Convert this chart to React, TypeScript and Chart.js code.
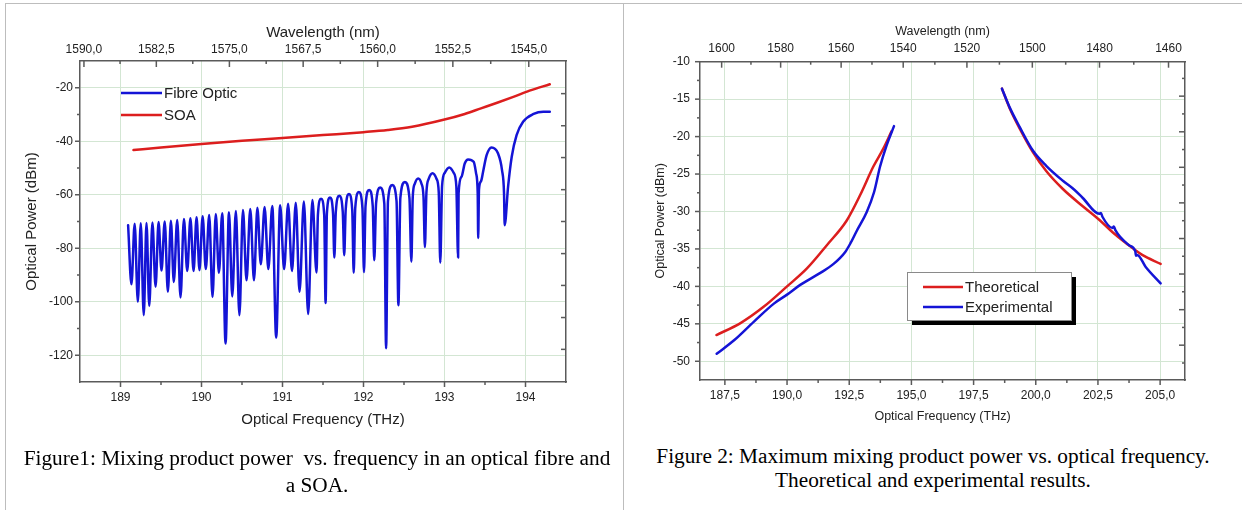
import React, { useEffect, useRef } from "react";
import { Chart, registerables } from "chart.js";

Chart.register(...registerables);

const SANS = '"Liberation Sans", Arial, Helvetica, sans-serif';
const SERIF = '"Liberation Serif", "Times New Roman", Times, serif';
const BLUE = "#1414d6";
const RED = "#dc1e1e";
const GRID = "#d3e6d3";
const FRAME = "#5a5a5a";
const TEXT = "#222222";
const C_NM_THZ = 299792.458;

// ---------------- Figure 1 ----------------
const FIG1_FREQ_TICKS = [189, 190, 191, 192, 193, 194];
const FIG1_FREQ_MINOR = [189.5, 190.5, 191.5, 192.5, 193.5];
const FIG1_DBM_TICKS = [-120, -100, -80, -60, -40, -20];
const FIG1_DBM_MINOR = [-110, -90, -70, -50, -30];
const FIG1_WL_TICKS = [1590, 1582.5, 1575, 1567.5, 1560, 1552.5, 1545];
const FIG1_WL_MINOR = [1586.25, 1578.75, 1571.25, 1563.75, 1556.25, 1548.75];
const FIG1_RIGHT_TICKS = [-22.2, -34.2, -46.1, -58.1, -70.0, -82.0, -93.9, -105.9, -117.8];

const SOA_FREQ = [189.16, 189.5, 190.0, 190.5, 191.0, 191.5, 192.0, 192.3, 192.6, 193.0, 193.25, 193.45, 193.65, 193.85, 194.05, 194.3];
const SOA_DBM = [-43.3, -42.3, -41.0, -39.8, -38.8, -37.7, -36.6, -35.8, -34.6, -31.9, -29.8, -27.7, -25.6, -23.4, -21.1, -18.7];

const FIBRE_PEAK_FREQ = [189.094, 189.175, 189.25, 189.321, 189.394, 189.47, 189.546, 189.622, 189.7, 189.783, 189.863, 189.939, 190.014, 190.095, 190.176, 190.256, 190.339, 190.424, 190.512, 190.602, 190.69, 190.779, 190.874, 190.971, 191.069, 191.164, 191.264, 191.369, 191.476, 191.586, 191.701, 191.821, 191.943, 192.07, 192.206, 192.355, 192.511, 192.675, 192.853, 193.058, 193.292, 193.58];
const FIBRE_PEAK_DBM = [-71.4, -70.8, -70.7, -70.6, -70.4, -70.2, -70.0, -69.7, -69.4, -69.1, -68.8, -68.4, -68.0, -67.6, -67.2, -66.9, -66.5, -66.1, -65.7, -65.3, -64.9, -64.6, -64.2, -63.9, -63.4, -63.0, -62.5, -62.0, -61.5, -61.0, -60.4, -59.7, -59.0, -58.2, -57.3, -56.4, -55.2, -53.9, -52.0, -49.8, -46.8, -42.3];

const FIBRE_DIP_FREQ = [189.135, 189.214, 189.287, 189.355, 189.433, 189.506, 189.585, 189.658, 189.741, 189.824, 189.902, 189.975, 190.053, 190.136, 190.215, 190.297, 190.38, 190.468, 190.556, 190.648, 190.732, 190.825, 190.922, 191.02, 191.117, 191.21, 191.317, 191.42, 191.532, 191.64, 191.762, 191.879, 192.006, 192.133, 192.279, 192.431, 192.591, 192.758, 192.948, 193.168, 193.416, 193.743];
const FIBRE_DIP_DBM = [-93.5, -100.0, -105.0, -101.6, -94.4, -88.3, -96.3, -92.6, -98.4, -88.5, -88.5, -88.2, -87.8, -98.2, -89.2, -115.6, -98.0, -105.0, -92.0, -92.0, -86.0, -87.8, -113.4, -87.8, -88.5, -96.3, -104.6, -89.1, -100.5, -83.5, -82.6, -89.2, -88.9, -84.5, -117.4, -101.3, -85.0, -79.5, -85.4, -83.5, -76.2, -71.4];

const FIBRE_SHOULDER_FREQ = [191.437, 191.515, 191.548, 191.624, 191.658, 191.744, 191.78, 191.861, 191.898, 191.987, 192.025, 192.114, 192.155, 192.257, 192.302, 192.408, 192.455, 192.567, 192.608, 192.633, 192.716, 192.741, 192.777, 192.806, 192.901, 192.929, 192.97, 193.003, 193.113, 193.146, 193.174, 193.21, 193.25, 193.36, 193.39, 193.41, 193.426, 193.45, 193.48, 193.52, 193.66, 193.71, 193.735];
const FIBRE_SHOULDER_DBM = [-67.5, -67.5, -67.0, -67.0, -66.4, -66.4, -65.7, -65.7, -65.0, -65.0, -64.2, -64.2, -63.3, -63.3, -62.4, -62.4, -61.2, -61.2, -60.9, -55.9, -55.9, -60.9, -59.0, -54.0, -54.0, -59.0, -56.8, -51.8, -51.8, -56.8, -59.5, -53.3, -48.3, -47.7, -52.0, -59.5, -58.0, -55.0, -50.8, -45.2, -44.5, -50.8, -59.5];

const FIBRE_TAIL_FREQ = [193.785, 193.83, 193.89, 193.97, 194.1, 194.22, 194.3];
const FIBRE_TAIL_DBM = [-57.0, -45.8, -37.7, -32.7, -29.8, -29.0, -29.0];

// ---------------- Figure 2 ----------------
const FIG2_FREQ_TICKS = [187.5, 190, 192.5, 195, 197.5, 200, 202.5, 205];
const FIG2_FREQ_MINOR = [188.75, 191.25, 193.75, 196.25, 198.75, 201.25, 203.75];
const FIG2_DBM_TICKS = [-50, -45, -40, -35, -30, -25, -20, -15, -10];
const FIG2_DBM_MINOR = [-47.5, -42.5, -37.5, -32.5, -27.5, -22.5, -17.5, -12.5];
const FIG2_WL_TICKS = [1600, 1580, 1560, 1540, 1520, 1500, 1480, 1460];
const FIG2_WL_MINOR = [1590, 1570, 1550, 1530, 1510, 1490, 1470];
const FIG2_RIGHT_LONG = [-14.6, -19.36, -24.1, -28.85, -33.61, -38.35, -43.11, -47.85];
const FIG2_RIGHT_SHORT = [-12.23, -16.97, -21.73, -26.47, -31.23, -35.98, -40.72, -45.48, -50.23];

const THEO_LOW_FREQ = [187.16, 188.13, 189.07, 190.0, 190.8, 191.6, 192.4, 192.94, 193.47, 193.87, 194.2];
const THEO_LOW_DBM = [-46.5, -44.9, -42.7, -40.0, -37.6, -34.5, -31.2, -27.8, -24.0, -21.6, -19.3];
const THEO_HIGH_FREQ = [198.64, 198.95, 199.35, 199.89, 200.42, 201.09, 201.89, 202.55, 203.1, 203.62, 204.28, 205.02];
const THEO_HIGH_DBM = [-13.6, -16.2, -18.9, -22.1, -24.6, -27.0, -29.3, -31.1, -32.8, -34.2, -35.8, -37.0];

const EXP_LOW_FREQ = [187.17, 187.87, 188.67, 189.47, 190.0, 190.53, 191.34, 191.87, 192.34, 192.54, 192.8, 193.2, 193.5, 193.74, 194.0, 194.3];
const EXP_LOW_DBM = [-49.0, -47.2, -44.7, -42.3, -41.1, -39.8, -38.2, -37.0, -35.4, -34.3, -32.6, -30.1, -27.4, -24.0, -21.2, -18.6];
const EXP_HIGH_FREQ = [198.64, 198.95, 199.35, 199.89, 200.42, 201.09, 201.55, 201.89, 202.55, 202.62, 202.68, 203.09, 203.14, 203.2, 203.75, 204.0, 204.03, 204.08, 204.42, 205.02];
const EXP_HIGH_DBM = [-13.6, -16.1, -18.7, -21.9, -23.9, -25.9, -27.1, -28.2, -30.3, -30.2, -30.7, -32.2, -32.0, -32.5, -34.5, -35.3, -35.9, -35.8, -37.4, -39.6];

// ---------------- helpers ----------------
type Pt = { x: number; y: number | null };
const pairs = (xs: number[], ys: number[]): Pt[] => xs.map((x, i) => ({ x, y: ys[i] }));
const merged = (...lists: Pt[][]): Pt[] => lists.flat().sort((a, b) => a.x - b.x);
const comma = (v: number, d: number) => v.toFixed(d).replace(".", ",");
const toFreq = (nm: number) => C_NM_THZ / nm;

type TickSpec = { axis: string; values: number[]; len: number; inward: boolean };

function tickMarks(id: string, specs: TickSpec[]) {
  return {
    id,
    afterDraw(chart: any) {
      const ctx = chart.ctx;
      const a = chart.chartArea;
      ctx.save();
      ctx.strokeStyle = FRAME;
      ctx.lineWidth = 1.5;
      for (const s of specs) {
        const sc = chart.scales[s.axis];
        for (const v of s.values) {
          const p = sc.getPixelForValue(v);
          ctx.beginPath();
          if (sc.position === "bottom") {
            ctx.moveTo(p, a.bottom);
            ctx.lineTo(p, a.bottom + (s.inward ? -s.len : s.len));
          } else if (sc.position === "top") {
            ctx.moveTo(p, a.top);
            ctx.lineTo(p, a.top + (s.inward ? s.len : -s.len));
          } else if (sc.position === "left") {
            ctx.moveTo(a.left, p);
            ctx.lineTo(a.left + (s.inward ? s.len : -s.len), p);
          } else {
            ctx.moveTo(a.right, p);
            ctx.lineTo(a.right + (s.inward ? -s.len : s.len), p);
          }
          ctx.stroke();
        }
      }
      ctx.restore();
    },
  };
}

type LegendEntry = { label: string; color: string };
type LegendBox = { x: number; y: number; w: number; h: number; shadow: boolean; frame: boolean; lineX0: number; lineX1: number; firstY: number; gap: number; fontSize: number };

function legendPlugin(id: string, entries: LegendEntry[], box: LegendBox) {
  return {
    id,
    afterDraw(chart: any) {
      const ctx = chart.ctx;
      ctx.save();
      if (box.shadow) {
        ctx.fillStyle = "#000";
        ctx.fillRect(box.x + 5, box.y + 5, box.w, box.h);
      }
      if (box.frame) {
        ctx.fillStyle = "#fff";
        ctx.fillRect(box.x, box.y, box.w, box.h);
        ctx.strokeStyle = "#8a8a8a";
        ctx.lineWidth = 1;
        ctx.strokeRect(box.x + 0.5, box.y + 0.5, box.w, box.h);
      }
      ctx.font = `${box.fontSize}px ${SANS}`;
      ctx.textBaseline = "middle";
      ctx.textAlign = "left";
      entries.forEach((e, i) => {
        const y = box.firstY + i * box.gap;
        ctx.strokeStyle = e.color;
        ctx.lineWidth = 2.5;
        ctx.beginPath();
        ctx.moveTo(box.lineX0, y);
        ctx.lineTo(box.lineX1, y);
        ctx.stroke();
        ctx.fillStyle = TEXT;
        ctx.fillText(e.label, box.lineX1 + 2, y + 1);
      });
      ctx.restore();
    },
  };
}

function fig1Config(): any {
  const fibre = merged(
    pairs(FIBRE_PEAK_FREQ, FIBRE_PEAK_DBM),
    pairs(FIBRE_DIP_FREQ, FIBRE_DIP_DBM),
    pairs(FIBRE_SHOULDER_FREQ, FIBRE_SHOULDER_DBM),
    pairs(FIBRE_TAIL_FREQ, FIBRE_TAIL_DBM)
  );
  const soa = pairs(SOA_FREQ, SOA_DBM);
  const tickFont = { family: SANS, size: 12 };
  const titleFont = { family: SANS, size: 15 };
  return {
    type: "line",
    data: {
      datasets: [
        { label: "Fibre Optic", data: fibre, borderColor: BLUE, borderWidth: 2.5, pointRadius: 0, cubicInterpolationMode: "monotone", borderJoinStyle: "round", borderCapStyle: "round" },
        { label: "SOA", data: soa, borderColor: RED, borderWidth: 2.5, pointRadius: 0, cubicInterpolationMode: "monotone", borderCapStyle: "round" },
      ],
    },
    options: {
      responsive: false,
      animation: false,
      events: [],
      layout: { padding: 0, autoPadding: false },
      plugins: { legend: { display: false }, tooltip: { enabled: false } },
      scales: {
        x: {
          type: "linear", position: "bottom", min: 188.5, max: 194.5,
          afterBuildTicks: (s: any) => { s.ticks = FIG1_FREQ_TICKS.map((v) => ({ value: v })); },
          afterFit: (s: any) => { s.height = 58; },
          ticks: { autoSkip: false, maxRotation: 0, padding: 8.8, font: tickFont, color: TEXT, callback: (v: number) => String(v) },
          grid: { color: GRID, lineWidth: 1, drawTicks: false },
          border: { color: FRAME, width: 1.5 },
          title: { display: true, text: "Optical Frequency (THz)", font: titleFont, color: TEXT, padding: { top: 0, bottom: 11 } },
        },
        x2: {
          type: "linear", position: "top", min: 188.5, max: 194.5,
          afterBuildTicks: (s: any) => { s.ticks = FIG1_WL_TICKS.map((l) => ({ value: toFreq(l) })); },
          afterFit: (s: any) => { s.height = 61; },
          ticks: { autoSkip: false, maxRotation: 0, padding: 3.8, font: tickFont, color: TEXT, callback: (_v: number, i: number) => comma(FIG1_WL_TICKS[i], 1) },
          grid: { display: true, drawOnChartArea: false, drawTicks: false },
          border: { color: FRAME, width: 1.5 },
          title: { display: true, text: "Wavelength (nm)", font: titleFont, color: TEXT, padding: { top: 24, bottom: 0 } },
        },
        y: {
          type: "linear", position: "left", min: -130, max: -10,
          afterBuildTicks: (s: any) => { s.ticks = FIG1_DBM_TICKS.map((v) => ({ value: v })); },
          afterFit: (s: any) => { s.width = 80; },
          ticks: { autoSkip: false, padding: 7, font: tickFont, color: TEXT, callback: (v: number) => String(v) },
          grid: { color: GRID, lineWidth: 1, drawTicks: false },
          border: { color: FRAME, width: 1.5 },
          title: { display: true, text: "Optical Power (dBm)", font: titleFont, color: TEXT, padding: { top: 22.6, bottom: 0 } },
        },
        y2: {
          type: "linear", position: "right", min: -130, max: -10,
          afterFit: (s: any) => { s.width = 54; },
          ticks: { display: false },
          grid: { display: true, drawOnChartArea: false, drawTicks: false },
          border: { color: FRAME, width: 1.5 },
        },
      },
    },
    plugins: [
      tickMarks("fig1Ticks", [
        { axis: "x", values: FIG1_FREQ_TICKS, len: 5, inward: false },
        { axis: "x", values: FIG1_FREQ_MINOR, len: 3, inward: false },
        { axis: "y", values: FIG1_DBM_TICKS, len: 5, inward: false },
        { axis: "y", values: FIG1_DBM_MINOR, len: 3, inward: false },
        { axis: "x2", values: FIG1_WL_TICKS.map(toFreq), len: 6, inward: true },
        { axis: "x2", values: FIG1_WL_MINOR.map(toFreq), len: 3, inward: true },
        { axis: "y2", values: FIG1_RIGHT_TICKS, len: 5, inward: true },
      ]),
      legendPlugin(
        "fig1Legend",
        [
          { label: "Fibre Optic", color: BLUE },
          { label: "SOA", color: RED },
        ],
        { x: 0, y: 0, w: 0, h: 0, shadow: false, frame: false, lineX0: 121, lineX1: 162, firstY: 93, gap: 22, fontSize: 15 }
      ),
    ],
  };
}

function fig2Config(): any {
  const gap: Pt = { x: 196, y: null };
  const theo = [...pairs(THEO_LOW_FREQ, THEO_LOW_DBM), gap, ...pairs(THEO_HIGH_FREQ, THEO_HIGH_DBM)];
  const exp = [...pairs(EXP_LOW_FREQ, EXP_LOW_DBM), gap, ...pairs(EXP_HIGH_FREQ, EXP_HIGH_DBM)];
  const tickFont = { family: SANS, size: 12 };
  const titleFont = { family: SANS, size: 12.5 };
  return {
    type: "line",
    data: {
      datasets: [
        { label: "Experimental", data: exp, order: 0, borderColor: BLUE, borderWidth: 2.5, pointRadius: 0, cubicInterpolationMode: "monotone", borderCapStyle: "round", borderJoinStyle: "round" },
        { label: "Theoretical", data: theo, order: 1, borderColor: RED, borderWidth: 2.5, pointRadius: 0, cubicInterpolationMode: "monotone", borderCapStyle: "round" },
      ],
    },
    options: {
      responsive: false,
      animation: false,
      events: [],
      spanGaps: false,
      layout: { padding: 0, autoPadding: false },
      plugins: { legend: { display: false }, tooltip: { enabled: false } },
      scales: {
        x: {
          type: "linear", position: "bottom", min: 186.5, max: 206,
          afterBuildTicks: (s: any) => { s.ticks = FIG2_FREQ_TICKS.map((v) => ({ value: v })); },
          afterFit: (s: any) => { s.height = 60; },
          ticks: { autoSkip: false, maxRotation: 0, padding: 8.8, font: tickFont, color: TEXT, callback: (v: number) => comma(v, 1) },
          grid: { color: GRID, lineWidth: 1, drawTicks: false },
          border: { color: FRAME, width: 1.5 },
          title: { display: true, text: "Optical Frequency (THz)", font: titleFont, color: TEXT, padding: { top: 0, bottom: 16 } },
        },
        x2: {
          type: "linear", position: "top", min: 186.5, max: 206,
          afterBuildTicks: (s: any) => { s.ticks = FIG2_WL_TICKS.map((l) => ({ value: toFreq(l) })); },
          afterFit: (s: any) => { s.height = 61.7; },
          ticks: { autoSkip: false, maxRotation: 0, padding: 6.2, font: tickFont, color: TEXT, callback: (_v: number, i: number) => String(FIG2_WL_TICKS[i]) },
          grid: { display: true, drawOnChartArea: false, drawTicks: false },
          border: { color: FRAME, width: 1.5 },
          title: { display: true, text: "Wavelength (nm)", font: titleFont, color: TEXT, padding: { top: 24.5, bottom: 0 } },
        },
        y: {
          type: "linear", position: "left", min: -52.5, max: -10,
          afterBuildTicks: (s: any) => { s.ticks = FIG2_DBM_TICKS.map((v) => ({ value: v })); },
          afterFit: (s: any) => { s.width = 78; },
          ticks: { autoSkip: false, padding: 10, font: tickFont, color: TEXT, callback: (v: number) => String(v) },
          grid: { color: GRID, lineWidth: 1, drawTicks: false },
          border: { color: FRAME, width: 1.5 },
          title: { display: true, text: "Optical Power (dBm)", font: titleFont, color: TEXT, padding: { top: 30.8, bottom: 0 } },
        },
        y2: {
          type: "linear", position: "right", min: -52.5, max: -10,
          afterFit: (s: any) => { s.width = 57; },
          ticks: { display: false },
          grid: { display: true, drawOnChartArea: false, drawTicks: false },
          border: { color: FRAME, width: 1.5 },
        },
      },
    },
    plugins: [
      tickMarks("fig2Ticks", [
        { axis: "x", values: FIG2_FREQ_TICKS, len: 5, inward: false },
        { axis: "x", values: FIG2_FREQ_MINOR, len: 3, inward: false },
        { axis: "y", values: FIG2_DBM_TICKS, len: 5, inward: false },
        { axis: "y", values: FIG2_DBM_MINOR, len: 3, inward: false },
        { axis: "x2", values: FIG2_WL_TICKS.map(toFreq), len: 6, inward: true },
        { axis: "x2", values: FIG2_WL_MINOR.map(toFreq), len: 3, inward: true },
        { axis: "y2", values: FIG2_RIGHT_LONG, len: 6, inward: true },
        { axis: "y2", values: FIG2_RIGHT_SHORT, len: 3, inward: true },
      ]),
      legendPlugin(
        "fig2Legend",
        [
          { label: "Theoretical", color: RED },
          { label: "Experimental", color: BLUE },
        ],
        { x: 285, y: 272, w: 164, h: 48, shadow: true, frame: true, lineX0: 301, lineX1: 341, firstY: 287, gap: 20, fontSize: 15 }
      ),
    ],
  };
}

function ChartCanvas(props: { make: () => any; left: number; top: number; width: number; height: number }) {
  const ref = useRef<HTMLCanvasElement>(null);
  useEffect(() => {
    const chart = new Chart(ref.current as HTMLCanvasElement, props.make());
    return () => chart.destroy();
  }, []);
  return (
    <canvas
      ref={ref}
      width={props.width}
      height={props.height}
      style={{ position: "absolute", left: props.left, top: props.top, width: props.width, height: props.height }}
    />
  );
}

const captionStyle = (left: number, width: number, centerY: number): React.CSSProperties => ({
  position: "absolute",
  left,
  width,
  top: centerY - 13,
  height: 26,
  lineHeight: "26px",
  textAlign: "center",
  fontFamily: SERIF,
  fontSize: 21.3,
  color: "#000",
  whiteSpace: "pre",
});

export default function App() {
  return (
    <div style={{ position: "absolute", left: 0, top: 0, width: 1242, height: 510, background: "#fff", overflow: "hidden" }}>
      <ChartCanvas make={fig1Config} left={0} top={0} width={620} height={440} />
      <ChartCanvas make={fig2Config} left={622} top={0} width={620} height={440} />
      <div style={{ position: "absolute", left: 5, top: 3, width: 1237, height: 1, background: "#bdbdbd" }} />
      <div style={{ position: "absolute", left: 5, top: 3, width: 1, height: 507, background: "#bdbdbd" }} />
      <div style={{ position: "absolute", left: 623, top: 3, width: 1, height: 507, background: "#bdbdbd" }} />
      <div style={captionStyle(10, 614, 458)}>{"Figure1: Mixing product power  vs. frequency in an optical fibre and"}</div>
      <div style={captionStyle(10, 614, 485)}>{"a SOA."}</div>
      <div style={captionStyle(624, 618, 456)}>{"Figure 2: Maximum mixing product power vs. optical frequency."}</div>
      <div style={captionStyle(624, 618, 480)}>{"Theoretical and experimental results."}</div>
    </div>
  );
}
